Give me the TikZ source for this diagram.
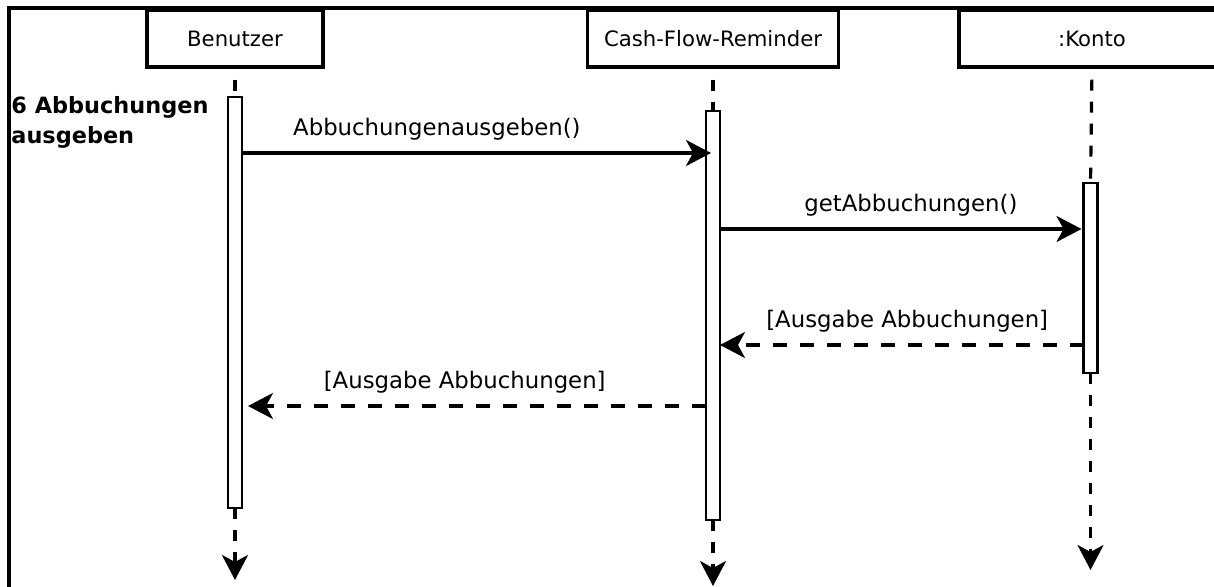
\documentclass[tikz,border=0pt]{standalone}
\usepackage{fontspec}
\setmainfont{DejaVu Sans}
\usetikzlibrary{arrows.meta}

\tikzset{
  obj/.style={draw, line width=1.6pt, minimum height=28.5pt, inner sep=0pt,
    font=\fontsize{10.6pt}{12pt}\selectfont},
  act/.style={draw, line width=1.4pt, fill=white, minimum width=7pt,
    inner sep=0pt, outer sep=0pt, anchor=north},
  headtip/.style={-{Stealth[length=12.5pt,width=13pt,inset=3.5pt]}},
  life/.style={line width=1.6pt, dash pattern=on 5.5pt off 5.5pt},
  call/.style={line width=1.6pt, headtip},
  reply/.style={call, dash pattern=on 7pt off 6.5pt},
  lbl/.style={font=\fontsize{11.4pt}{13pt}\selectfont, above=2pt}
}

\begin{document}
\begin{tikzpicture}[x=0.5pt,y=-0.5pt]
\clip (0,0) rectangle (1214,587);
\draw[line width=1.7pt] (9,600) -- (9,8) -- (1230,8);

% objects
\node[obj, minimum width=88pt] (benutzer) at (235,38.5) {Benutzer};
\node[obj, minimum width=125.5pt] (cfr) at (713,38.5) {Cash-Flow-Reminder};
\node[obj, minimum width=133pt] (konto) at (1092,38.5) {:Konto};

% activation bars
\node[act, minimum height=205.5pt] (barB) at (235,97) {};
\node[act, minimum height=204.5pt] (barC) at (713,111) {};
\node[act, minimum height=95pt] (barK) at (1090.5,183) {};

% lifelines
\coordinate (endB) at (235,580);
\coordinate (endC) at (713,586);
\coordinate (endK) at (1090.5,570);
\draw[life, dash phase=5.5pt] (benutzer.south) -- (barB.north);
\draw[life, dash phase=5.5pt] (cfr.south) -- (barC.north);
\draw[life, dash phase=5.5pt] (konto.south) -- (barK.north);
\draw[life, headtip] (barB.south) -- (endB);
\draw[life, headtip] (barC.south) -- (endC);
\draw[life, headtip] (barK.south) -- (endK);

\node[anchor=north west, align=left, inner sep=0pt,
  font=\bfseries\fontsize{11.2pt}{15pt}\selectfont] (step6) at (11,96)
  {6 Abbuchungen\\ausgeben};

% messages
\coordinate (m1) at (0,153);
\coordinate (m2) at (0,229);
\coordinate (m3) at (0,345);
\coordinate (m4) at (0,406);
\draw[call, shorten >=-2.5pt] (barB.east |- m1) -- (barC.west |- m1)
  node[lbl, pos=0.42] {Abbuchungenausgeben()};
\draw[call, shorten >=1pt] (barC.east |- m2) -- (barK.west |- m2)
  node[lbl, pos=0.525] {getAbbuchungen()};
\draw[reply] (barK.west |- m3) -- (barC.east |- m3)
  node[lbl, pos=0.485] {[Ausgabe Abbuchungen]};
\draw[reply, shorten >=3pt] (barC.west |- m4) -- (barB.east |- m4)
  node[lbl, pos=0.52] {[Ausgabe Abbuchungen]};
\end{tikzpicture}
\end{document}
